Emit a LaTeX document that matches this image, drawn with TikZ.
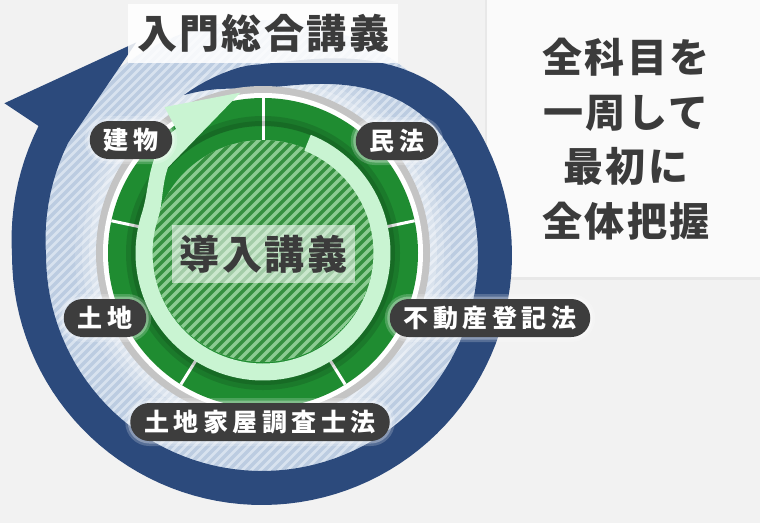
\documentclass[tikz,border=0pt]{standalone}
\usepackage{fontspec}
\newfontfamily\lblfont{Noto Sans CJK JP}[LetterSpace=18]
\newfontfamily\bigfont{Noto Sans CJK JP}[LetterSpace=6]
\definecolor{bgray}{HTML}{F2F2F2}
\definecolor{panel}{HTML}{FAFAFA}
\definecolor{bandblue}{HTML}{2C4A7C}
\definecolor{hatchbase}{HTML}{D8E2EF}
\definecolor{hatchline}{HTML}{BCCCE1}
\definecolor{ringgray}{HTML}{C4C4C4}
\definecolor{ringgreen}{HTML}{1F8C31}
\definecolor{mint}{HTML}{C9F4D2}
\definecolor{gbase}{HTML}{8BCB91}
\definecolor{gline}{HTML}{35903F}
\definecolor{txtgray}{HTML}{3B3B3B}
\definecolor{lblgray}{HTML}{3D3D3D}

\begin{document}
\begin{tikzpicture}[x=1pt,y=-1pt,
    declare function={
      bs(\a)=(1-cos(180*min(max((\a-30)/65,0),1)))/2;
      bmid(\a)=233-55*bs(\a)+8*min(max((-180-\a)/30,0),1);
      bhw(\a)=(17-5*bs(\a))*min((116-\a)/21,1);
      bro(\a)=bmid(\a)+bhw(\a);
      bri(\a)=bmid(\a)-bhw(\a);
      mt(\a)=min(max((-198-\a)/37,0),1);
      mmid(\a)=119+24*(1-cos(180*mt(\a)))/2;
    },
    subj/.style={fill=lblgray, text=white, rounded corners=19pt,
      minimum height=38pt, inner xsep=14pt, inner ysep=0pt,
      font=\lblfont\bfseries\fontsize{25}{25}\selectfont,
      preaction={draw=white, draw opacity=.2, line width=10pt},
      preaction={draw=white, draw opacity=.3, line width=5pt}},
    bigtxt/.style={text=txtgray, inner sep=0pt,
      font=\bigfont\bfseries\fontsize{40}{54.5}\selectfont}]
    \useasboundingbox (0,0) rectangle (760,523);
    \fill[bgray] (0,0) rectangle (760,523);
    \fill[black!5] (481,0) rectangle (760,284);
    \fill[black!9] (485,0) rectangle (760,280);
    \fill[panel] (487,0) rectangle (760,277);

    \coordinate (bc) at (262,255);
    \coordinate (gc) at (263,253);
    \coordinate (hc) at (263,251);

    \begin{scope}
        \clip (bc) circle (235pt);
        \fill[hatchbase] (bc) circle (235pt);
        \foreach \s in {-340,-331,...,340}
            \draw[hatchline, line width=3.5pt] (262+\s-340,255+340) -- (262+\s+340,255-340);
    \end{scope}
    \foreach \r/\o in {188/.12,181/.18,174/.25}
        \fill[white, opacity=\o] (gc) circle (\r pt);

    \fill[bandblue] plot[domain=116:-210,samples=120] ({262+bro(\x)*cos(\x)},{255-bro(\x)*sin(\x)})
        -- ({262+299*cos(-210.5)},{255-299*sin(-210.5)})
        -- ({262+247*cos(-239.4)},{255-247*sin(-239.4)})
        -- plot[domain=-210:116,samples=120] ({262+bri(\x)*cos(\x)},{255-bri(\x)*sin(\x)}) -- cycle;

    \fill[ringgray] (gc) circle (167pt);
    \fill[white] (gc) circle (160pt);
    \fill[ringgreen] (gc) circle (155pt);
    \foreach \a in {90,12,-58,-122,168}
        \draw[white, line width=3pt] ({263+112*cos(\a)},{253-112*sin(\a)}) -- ({263+155*cos(\a)},{253-155*sin(\a)});
    \draw[black, opacity=.12, line width=10pt] (gc) circle (132pt);
    \draw[black, opacity=.12, line width=5pt] (gc) circle (129.5pt);

    \begin{scope}
        \clip (hc) circle (111pt);
        \fill[gbase] (hc) circle (111pt);
        \foreach \s in {-170,-160,...,170}
            \draw[gline, line width=3.5pt] (263+\s-170,251+170) -- (263+\s+170,251-170);
    \end{scope}

    \fill[mint] plot[domain=68:-235,samples=110] ({263+(mmid(\x)+8.5)*cos(\x)},{253-(mmid(\x)+8.5)*sin(\x)})
        -- ({263+176*cos(-236)},{253-176*sin(-236)})
        -- ({263+162*cos(-262)},{253-162*sin(-262)})
        -- plot[domain=-222:68,samples=100] ({263+(mmid(\x)-8.5)*cos(\x)},{253-(mmid(\x)-8.5)*sin(\x)}) -- cycle;

    \node[bigtxt, fill=white, fill opacity=.55, text opacity=1, minimum width=183pt, minimum height=58pt] (intro) at (263.5,254) {導入講義};

    \node[subj] (tatemono) at (131,140) {建物};
    \node[subj] (minpo) at (397,141) {民法};
    \node[subj] (tochi) at (105,318) {土地};
    \node[subj] (fudosan) at (490,318) {不動産登記法};
    \node[subj] (chosashi) at (260,422) {土地家屋調査士法};

    \node[bigtxt, fill=white, fill opacity=.85, text opacity=1, minimum width=270pt, minimum height=59pt] (title) at (263,33.5) {入門総合講義};
    \node[bigtxt, align=center] (slogan) at (626,139) {全科目を\\一周して\\最初に\\全体把握};
\end{tikzpicture}
\end{document}
